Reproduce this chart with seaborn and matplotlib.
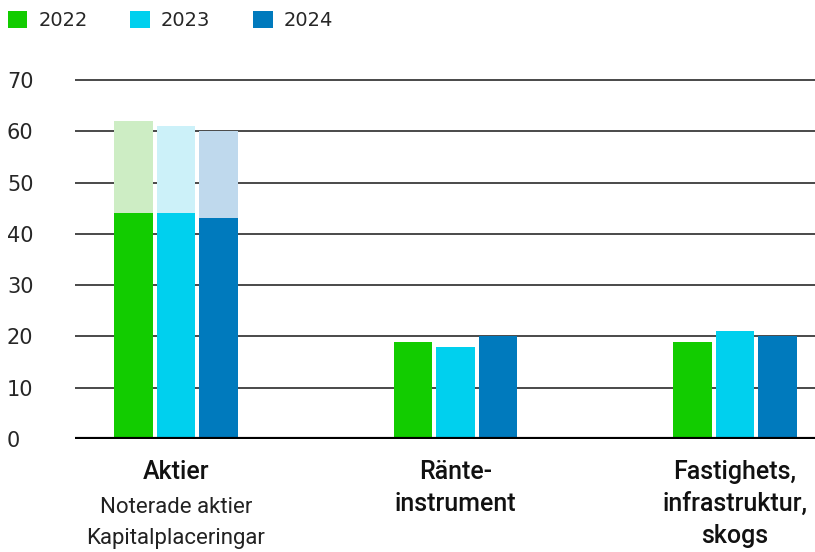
import pandas as pd
import seaborn as sns
import matplotlib.pyplot as plt
from matplotlib.patches import Patch

# data
categories = ["Aktier", "Ränte-\ninstrument", "Fastighets,\ninfrastruktur,\nskogs"]
years = ["2022", "2023", "2024"]
values_2022 = [44, 19, 19]
values_2023 = [44, 18, 21]
values_2024 = [43, 20, 20]
# Aktier incl. the lighter upper segment
totals_2022 = [62, 19, 19]
totals_2023 = [61, 18, 21]
totals_2024 = [60, 20, 20]

dark_colors = ["#12CC00", "#00D0EE", "#007ABD"]
light_colors = ["#CDEDC4", "#CCF1F9", "#BFD9ED"]

rows = []
for yr, vals, tots in zip(years, [values_2022, values_2023, values_2024],
                          [totals_2022, totals_2023, totals_2024]):
    for cat, v, t in zip(categories, vals, tots):
        rows.append({"category": cat, "year": yr, "value": v, "total": t})
df = pd.DataFrame(rows)

sns.set_theme(style="white")
plt.rcParams["font.family"] = ["DejaVu Sans"]

fig = plt.figure(figsize=(8.15, 5.52), dpi=100)
ax = fig.add_axes([0.092, 0.2047, 0.908, 0.669])

sns.barplot(data=df, x="category", y="total", hue="year", palette=light_colors,
            width=0.456, gap=0.1, ax=ax, legend=False, saturation=1, linewidth=0)
sns.barplot(data=df, x="category", y="value", hue="year", palette=dark_colors,
            width=0.456, gap=0.1, ax=ax, legend=False, saturation=1, linewidth=0)

ax.set_ylim(0, 72)
ax.set_xlim(-0.361, 2.286)
ax.set_yticks(range(0, 80, 10))
for y in range(10, 80, 10):
    ax.axhline(y, color="#2a2a2a", lw=1.2, zorder=0)
ax.axhline(0, color="black", lw=3, zorder=5)
ax.set_axisbelow(True)
sns.despine(ax=ax, left=True, bottom=True)

ax.set_xlabel("")
ax.set_ylabel("")
ax.tick_params(axis="y", length=0, pad=49, labelsize=15)
for lbl in ax.get_yticklabels():
    lbl.set_horizontalalignment("left")
ax.tick_params(axis="x", length=0, pad=15)
ax.set_xticks(range(len(categories)))
ax.set_xticklabels(categories, fontsize=18, family="Roboto", fontweight="medium",
                   linespacing=1.42, color="#111111")

ax.text(0, -0.158, "Noterade aktier\nKapitalplaceringar", transform=ax.get_xaxis_transform(),
        ha="center", va="top", fontsize=16, family="Roboto", fontweight="normal",
        linespacing=1.6, color="#222222")

handles = [Patch(facecolor=c, edgecolor="none") for c in dark_colors]
fig.legend(handles, years, loc="upper left", bbox_to_anchor=(0.0, 0.995), ncol=3,
           frameon=False, fontsize=14, handlelength=1.0, handleheight=1.0,
           handletextpad=0.57, columnspacing=2.2, borderaxespad=0.0, borderpad=0.4)

fig.savefig("out.png", dpi=100)
